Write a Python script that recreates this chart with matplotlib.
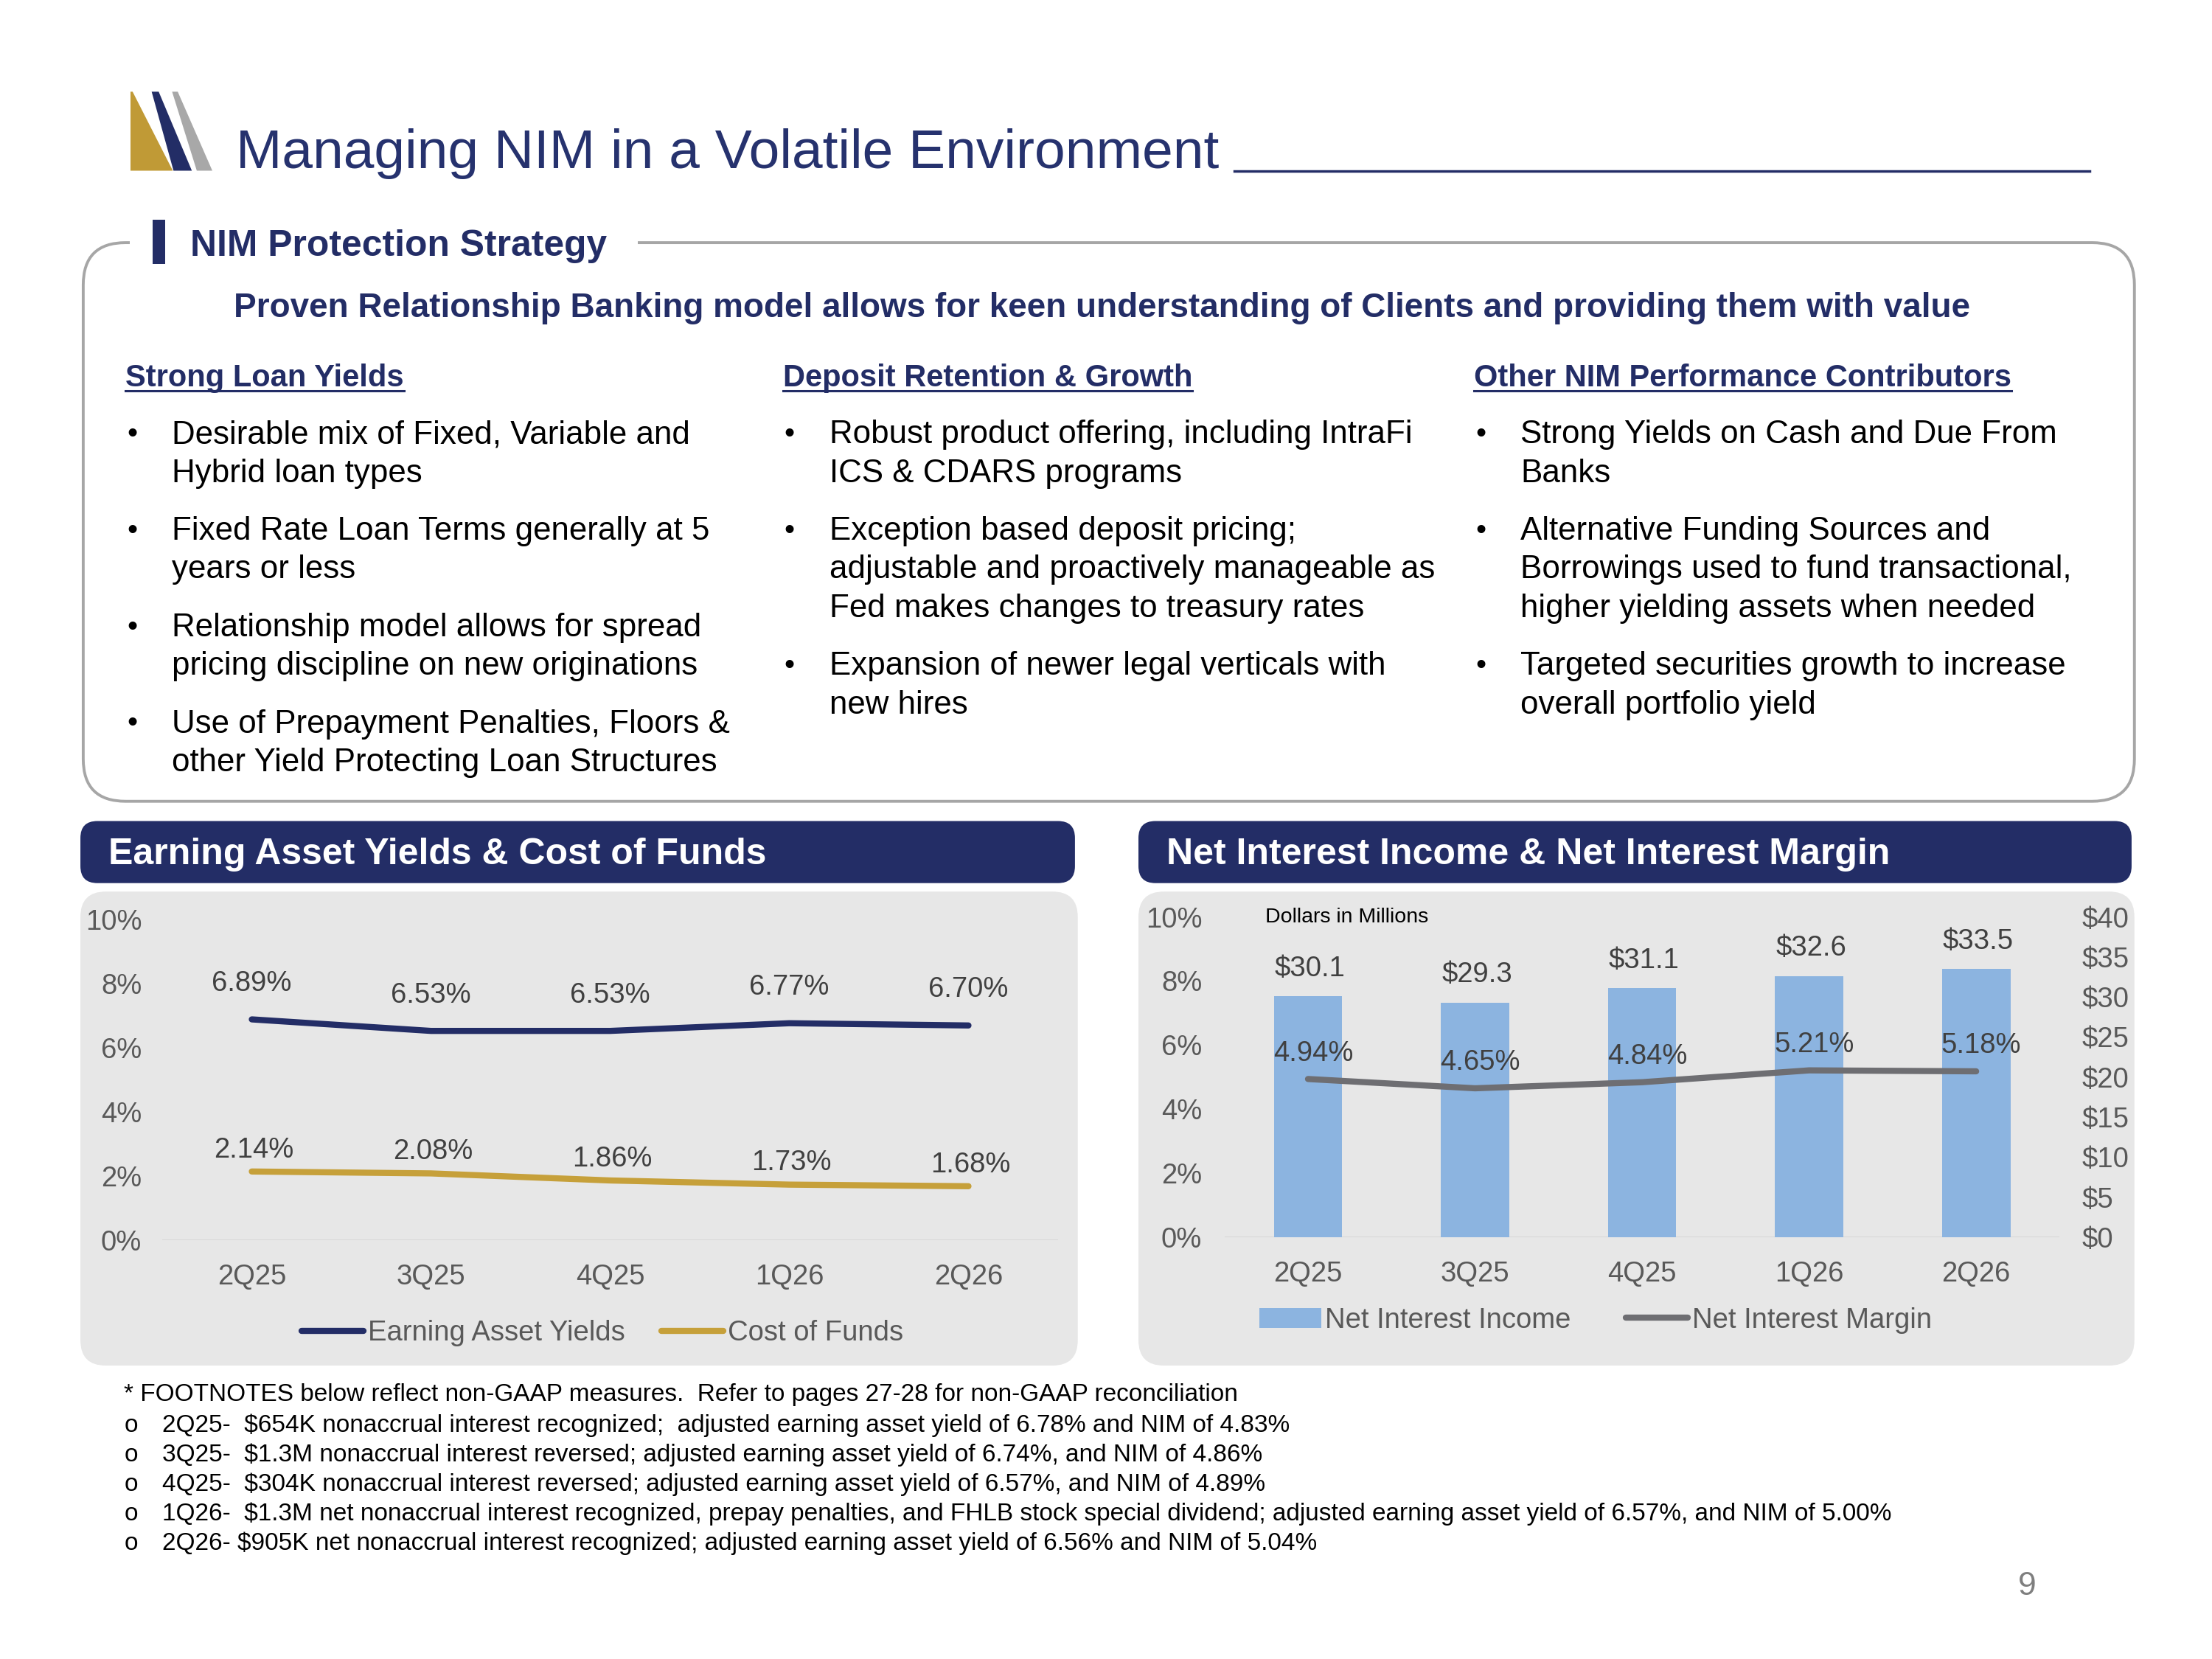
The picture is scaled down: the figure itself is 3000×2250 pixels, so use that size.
import matplotlib
matplotlib.use("Agg")
import matplotlib.pyplot as plt
from matplotlib.patches import FancyBboxPatch, Rectangle, Polygon, Patch

plt.rcParams['font.family'] = ['Liberation Sans', 'DejaVu Sans']

# ---- data ----
quarters = ["2Q25", "3Q25", "4Q25", "1Q26", "2Q26"]
earning_asset_yields = [6.89, 6.53, 6.53, 6.77, 6.70]
cost_of_funds = [2.14, 2.08, 1.86, 1.73, 1.68]
net_interest_income = [30.1, 29.3, 31.1, 32.6, 33.5]
net_interest_margin = [4.94, 4.65, 4.84, 5.21, 5.18]
pct_ticks = [0, 2, 4, 6, 8, 10]
dollar_ticks = [0, 5, 10, 15, 20, 25, 30, 35, 40]

title = "Managing NIM in a Volatile Environment"
section = "NIM Protection Strategy"
subheading = ("Proven Relationship Banking model allows for keen understanding "
              "of Clients and providing them with value")
col_headers = ["Strong Loan Yields", "Deposit Retention & Growth",
               "Other NIM Performance Contributors"]
col_bullets = [
    [["Desirable mix of Fixed, Variable and", "Hybrid loan types"],
     ["Fixed Rate Loan Terms generally at 5", "years or less"],
     ["Relationship model allows for spread", "pricing discipline on new originations"],
     ["Use of Prepayment Penalties, Floors &", "other Yield Protecting Loan Structures"]],
    [["Robust product offering, including IntraFi", "ICS & CDARS programs"],
     ["Exception based deposit pricing;", "adjustable and proactively manageable as",
      "Fed makes changes to treasury rates"],
     ["Expansion of newer legal verticals with", "new hires"]],
    [["Strong Yields on Cash and Due From", "Banks"],
     ["Alternative Funding Sources and", "Borrowings used to fund transactional,",
      "higher yielding assets when needed"],
     ["Targeted securities growth to increase", "overall portfolio yield"]],
]
footnote_head = ("* FOOTNOTES below reflect non-GAAP measures.  "
                 "Refer to pages 27-28 for non-GAAP reconciliation")
footnotes = [
    "2Q25-  $654K nonaccrual interest recognized;  adjusted earning asset yield of 6.78% and NIM of 4.83%",
    "3Q25-  $1.3M nonaccrual interest reversed; adjusted earning asset yield of 6.74%, and NIM of 4.86%",
    "4Q25-  $304K nonaccrual interest reversed; adjusted earning asset yield of 6.57%, and NIM of 4.89%",
    "1Q26-  $1.3M net nonaccrual interest recognized, prepay penalties, and FHLB stock special dividend; "
    "adjusted earning asset yield of 6.57%, and NIM of 5.00%",
    "2Q26- $905K net nonaccrual interest recognized; adjusted earning asset yield of 6.56% and NIM of 5.04%",
]

NAVY = "#232D66"
GOLD = "#C6A03A"
GREY_LINE = "#6E6E72"
BLUE_BAR = "#8CB4E0"
PANEL = "#E7E7E7"
TICK = "#595959"
LABEL = "#404040"

# layout units = pixels of a 1568 x 1176 slide
W, H = 1568, 1176
PT = 3000 / W * 72 / 100  # points per layout unit

fig = plt.figure(figsize=(30, 22.5), dpi=100)
bg = fig.add_axes([0, 0, 1, 1])
bg.set_xlim(0, W)
bg.set_ylim(H, 0)
bg.axis('off')


def box(x0, y0, x1, y1):
    return [x0 / W, 1 - y1 / H, (x1 - x0) / W, (y1 - y0) / H]


def txt(x, y, s, size, color="black", weight="normal", ha="left"):
    em = size / PT
    return bg.text(x, y + 0.358 * em, s, fontsize=size, color=color,
                   fontweight=weight, ha=ha, va="baseline", zorder=5)


# logo
bg.add_patch(Polygon([(92.5, 65), (94, 65), (122.5, 121), (92.5, 121)], closed=True, fc="#C09A36", ec="none"))
bg.add_patch(Polygon([(107.5, 65), (112.5, 65), (136, 121), (123, 121)], closed=True, fc=NAVY, ec="none"))
bg.add_patch(Polygon([(122, 65), (126, 65), (150.5, 121), (139.5, 121)], closed=True, fc="#A8A8A8", ec="none"))

# title
txt(167, 105, title, 54, color="#26326E")
bg.plot([875, 1481], [121, 121], color=NAVY, lw=2.5)

# strategy box
bg.add_patch(FancyBboxPatch((59, 172), 1454, 396, boxstyle="round,pad=0,rounding_size=30",
                            fc="none", ec="#A6A6A6", lw=2.8, zorder=1))
bg.add_patch(Rectangle((92, 160), 360, 25, fc="white", ec="none", zorder=2))
bg.add_patch(Rectangle((108, 156), 9, 31, fc=NAVY, ec="none", zorder=3))
txt(135, 172, section, 35.8, color=NAVY, weight="bold")
txt(781, 216, subheading, 33, color=NAVY, weight="bold", ha="center")

col_x = [89, 555, 1045]
header_texts = []
for cx, head in zip(col_x, col_headers):
    header_texts.append(txt(cx, 266, head, 30, color=NAVY, weight="bold"))

line_step, item_gap = 27.4, 41
for cx, items in zip(col_x, col_bullets):
    y = 306
    for item in items:
        txt(cx + 1, y, "\u2022", 29, ha="left")
        for k, line in enumerate(item):
            txt(cx + 33, y, line, 31.6)
            if k < len(item) - 1:
                y += line_step
        y += item_gap

fig.canvas.draw()
renderer = fig.canvas.get_renderer()
inv = bg.transData.inverted()
for t in header_texts:
    bb = t.get_window_extent(renderer)
    (x0, _), (x1, _) = inv.transform([(bb.x0, bb.y0), (bb.x1, bb.y1)])
    bg.plot([x0, x1], [277, 277], color=NAVY, lw=2.2, zorder=5)

# chart headers and panels
for x0, x1, head in [(57, 762, "Earning Asset Yields & Cost of Funds"),
                     (807, 1511, "Net Interest Income & Net Interest Margin")]:
    bg.add_patch(FancyBboxPatch((x0, 582), x1 - x0, 44, boxstyle="round,pad=0,rounding_size=12",
                                fc=NAVY, ec="none"))
    bg.add_patch(FancyBboxPatch((x0, 632), x1 - x0 + 2, 336, boxstyle="round,pad=0,rounding_size=18",
                                fc=PANEL, ec="none"))
    txt(x0 + 20, 603, head, 36, color="white", weight="bold")

FS = 27.5
xs = list(range(len(quarters)))

# left chart
ax1 = fig.add_axes(box(115, 652, 750, 879))
ax1.patch.set_visible(False)
eay_line, = ax1.plot(xs, earning_asset_yields, color=NAVY, lw=6, solid_capstyle="round",
                     solid_joinstyle="round", label="Earning Asset Yields")
cof_line, = ax1.plot(xs, cost_of_funds, color=GOLD, lw=6, solid_capstyle="round",
                     solid_joinstyle="round", label="Cost of Funds")
ax1.axhline(0, color="#D4D4D4", lw=2, zorder=0)
ax1.set_xlim(-0.5, len(quarters) - 0.5)
ax1.set_ylim(0, 10)
ax1.set_xticks(xs)
ax1.set_xticklabels(quarters)
ax1.set_yticks(pct_ticks)
ax1.set_yticklabels([f"{v}%" for v in pct_ticks])
ax1.tick_params(axis="both", length=0, labelsize=FS, labelcolor=TICK)
ax1.tick_params(axis="y", pad=20)
ax1.tick_params(axis="x", pad=23)
for s in ax1.spines.values():
    s.set_visible(False)
for i, v in enumerate(earning_asset_yields):
    ax1.annotate(f"{v:.2f}%", (i, v), xytext=(0, 35), textcoords="offset points",
                 ha="center", va="center", fontsize=FS, color=LABEL)
for i, v in enumerate(cost_of_funds):
    ax1.annotate(f"{v:.2f}%", (i, v), xytext=(2, 21), textcoords="offset points",
                 ha="center", va="center", fontsize=FS, color=LABEL)
fig.legend(handles=[eay_line, cof_line], loc="center", bbox_to_anchor=(427 / W, 1 - 945 / H),
           ncol=2, frameon=False, fontsize=FS, labelcolor=TICK, handlelength=2.2,
           handletextpad=0.15, columnspacing=1.3)

# right chart: bars on the right-hand dollar scale, margin line on the left-hand % scale
ax2 = fig.add_axes(box(868, 650, 1460, 877))
ax2.patch.set_visible(False)
ax2.bar(xs, net_interest_income, width=0.41, color=BLUE_BAR, label="Net Interest Income")
ax2.axhline(0, color="#D4D4D4", lw=2, zorder=0)
ax2.set_xlim(-0.5, len(quarters) - 0.5)
ax2.set_ylim(0, 40)
ax2.set_xticks(xs)
ax2.set_xticklabels(quarters)
for i, v in enumerate(net_interest_income):
    ax2.annotate(f"${v:.1f}", (i, v), xytext=(2, 27), textcoords="offset points",
                 ha="center", va="center", fontsize=FS, color=LABEL)

ax3 = ax2.twinx()
ax3.patch.set_visible(False)
nim_line, = ax3.plot(xs, net_interest_margin, color=GREY_LINE, lw=6, solid_capstyle="round",
                     solid_joinstyle="round", label="Net Interest Margin")
ax3.set_ylim(0, 10)

ax2.yaxis.tick_right()
ax2.set_yticks(dollar_ticks)
ax2.set_yticklabels([f"${v}" for v in dollar_ticks])
ax2.tick_params(axis="both", length=0, labelsize=FS, labelcolor=TICK)
ax2.tick_params(axis="y", pad=22, left=False, labelleft=False, right=False, labelright=True)
ax2.tick_params(axis="x", pad=23)

ax3.yaxis.tick_left()
ax3.set_yticks(pct_ticks)
ax3.set_yticklabels([f"{v}%" for v in pct_ticks])
ax3.tick_params(axis="y", length=0, labelsize=FS, labelcolor=TICK, pad=22,
                left=False, labelleft=True, right=False, labelright=False)
for a in (ax2, ax3):
    for s in a.spines.values():
        s.set_visible(False)
for i, v in enumerate(net_interest_margin):
    ax3.annotate(f"{v:.2f}%", (i, v), xytext=(5, 25), textcoords="offset points",
                 ha="center", va="center", fontsize=FS, color=LABEL)
bg.text(897, 650, "Dollars in Millions", fontsize=20.5, color="black", ha="left", va="center", zorder=5)
fig.legend(handles=[Patch(facecolor=BLUE_BAR, edgecolor="none", label="Net Interest Income"), nim_line],
           loc="center", bbox_to_anchor=(1131 / W, 1 - 936 / H), ncol=2, frameon=False,
           fontsize=FS, labelcolor=TICK, handlelength=2.2, handletextpad=0.15, columnspacing=1.95)

# footnotes
txt(88, 987, footnote_head, 24)
for k, note in enumerate(footnotes):
    y = 1009 + k * 20.8
    txt(88, y, "o", 24)
    txt(115, y, note, 24)

txt(1437, 1122, "9", 32, color="#7F7F7F", ha="center")

fig.savefig("out.png", dpi=100)
